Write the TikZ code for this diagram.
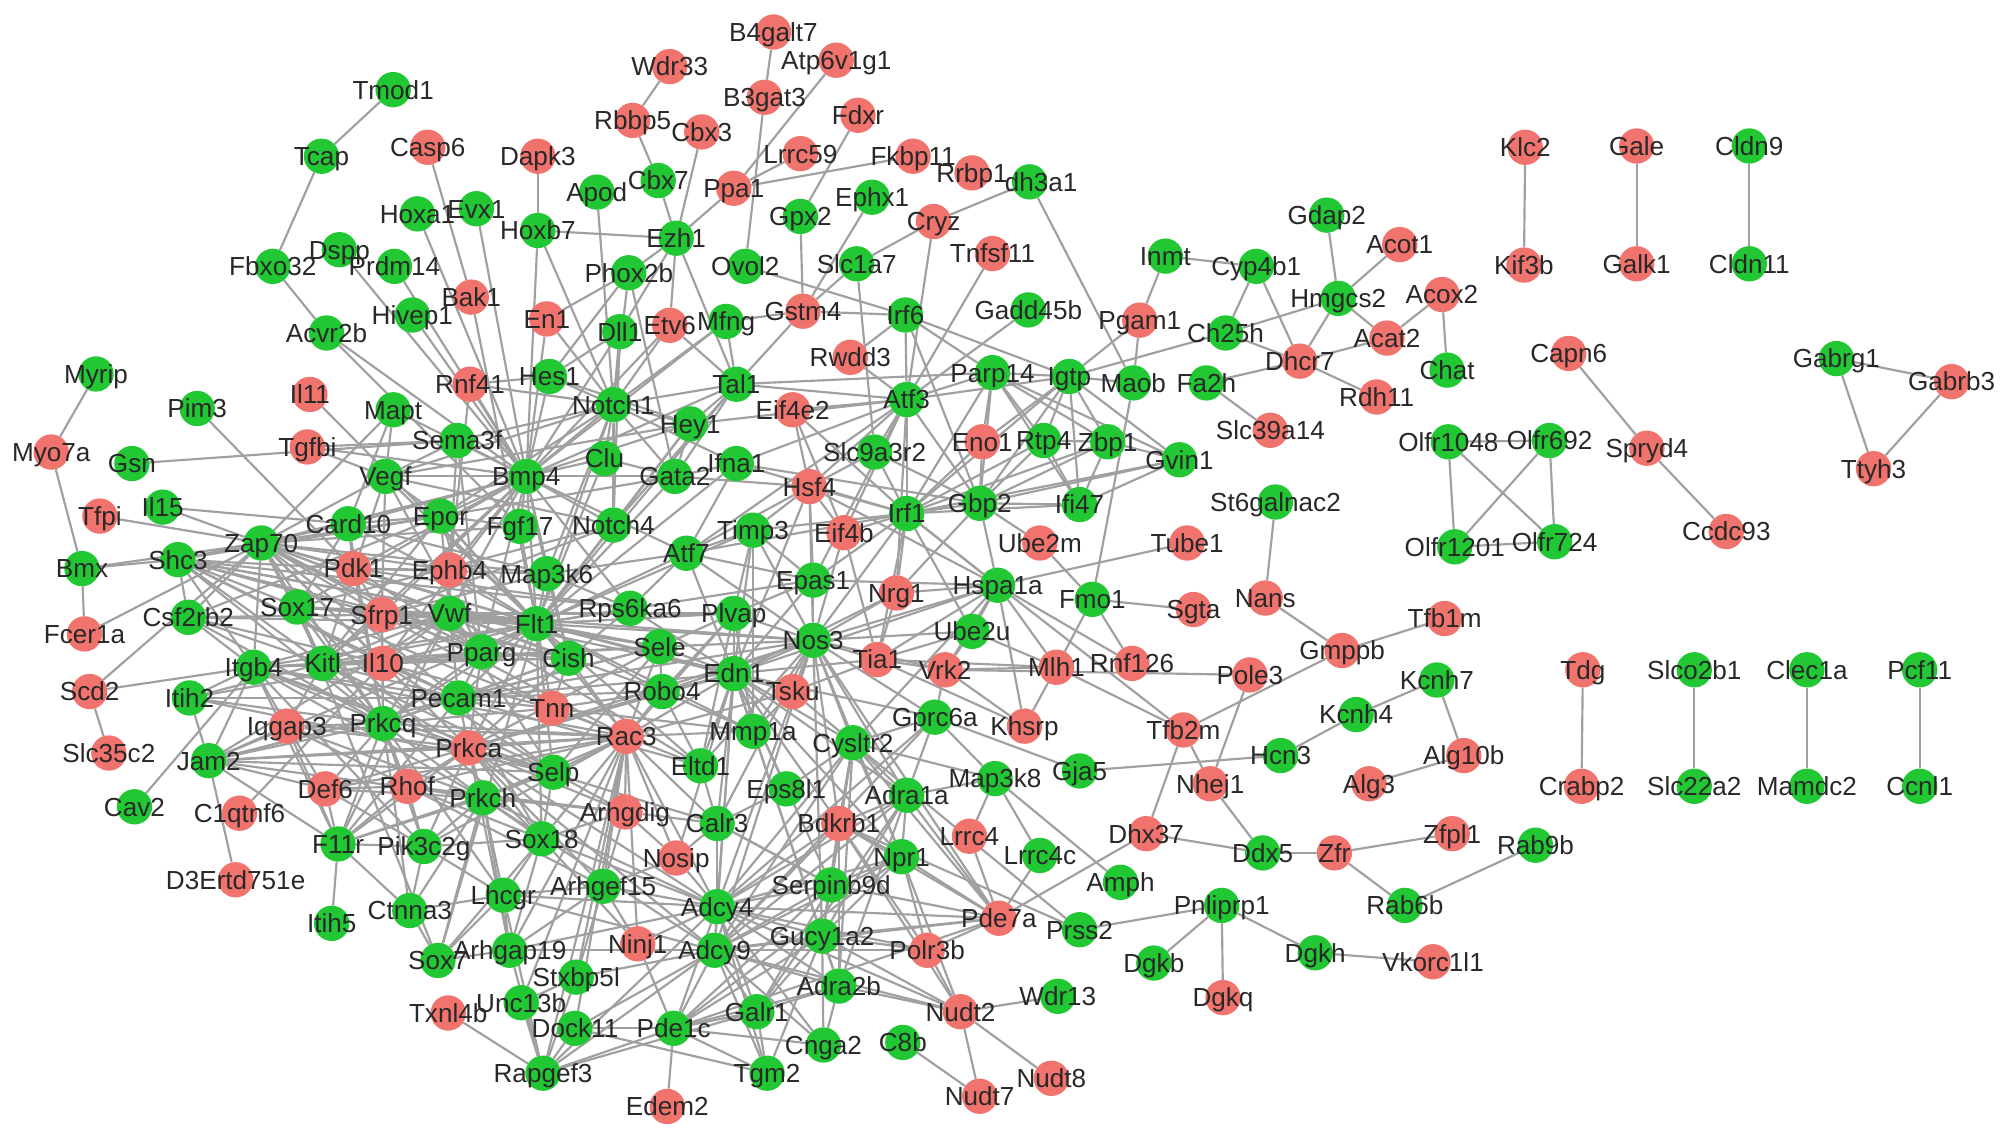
\documentclass[tikz,border=0pt]{standalone}
\usepackage{fontspec}
\newfontfamily\labfont{Liberation Sans}
\definecolor{ngreen}{RGB}{34,200,52}
\definecolor{nred}{RGB}{241,115,110}
\definecolor{egray}{RGB}{160,160,160}
\definecolor{tgray}{RGB}{40,40,40}
\pgfdeclarelayer{edgelayer}
\pgfsetlayers{edgelayer,main}
\newcommand\myhub[2]{\foreach \nb in {#2}{\draw[link] (#1) -- (\nb);}}
\def\GN{Tmod1/307/70,Tcap/251/122,Fbxo32/213/208,Dspp/265/195,Prdm14/308/208,Hoxa1/326/167,Evx1/372/163,Hoxb7/420/180,Apod/466/150,Hivep1/322/246,Acvr2b/255/260,Myrip/75/292,Pim3/154/319,Mapt/307/320,Hes1/429/294,Gsn/103/362,Sema3f/357/344,Vegf/301/372,Bmp4/411/372,Il15/127/396,Card10/272/409,Epor/344/403,Fgf17/406/411,Zap70/204/424,Shc3/139/437,Bmx/64/444,Map3k6/427/448,Sox17/232/474,Vwf/351/479,Flt1/419/487,Csf2rb2/147/482,Itgb4/198/521,Kitl/252/518,Pparg/376/509,Cish/444/514,Itih2/148/545,Pecam1/358/545,Prkcq/299/565,Jam2/163/594,Cav2/105/630,Prkch/377/623,Selp/432/603,F11r/264/659,Pik3c2g/331/661,Sox18/423/655,Lhcgr/393/699,Ctnna3/320/711,Itih5/259/721,Arhgap19/398/742,Sox7/342/750,Stxbp5l/450/763,Unc13b/407/783,Dock11/449/803,Rapgef3/424/838,%
Cbx7/514/141,Ephx1/681/154,Gpx2/625/169,Ezh1/528/186,Ovol2/582/208,Slc1a7/669/206,Phox2b/491/213,Irf6/707/246,Gadd45b/803/242,Dll1/484/259,Mfng/567/251,Tal1/575/300,Parp14/775/291,Igtp/835/294,Maob/885/299,Notch1/479/316,Hey1/539/331,Atf3/708/312,Clu/472/358,Gata2/527/372,Ifna1/575/362,Slc9a3r2/683/353,Rtp4/815/344,Zbp1/865/345,Gvin1/921/359,Irf1/708/401,Gbp2/765/393,Ifi47/843/394,Notch4/479/410,Timp3/588/414,Atf7/536/432,Epas1/635/453,Hspa1a/779/457,Fmo1/853/468,Rps6ka6/492/475,Plvap/573/479,Ube2u/759/493,Sele/515/505,Nos3/635/500,Edn1/573/526,Robo4/517/540,Gprc6a/730/560,Mmp1a/588/571,Cysltr2/666/580,Eltd1/547/598,Eps8l1/614/616,Map3k8/777/608,Gja5/843/602,Adra1a/708/621,Calr3/560/643,Npr1/704/669,Lrrc4c/812/668,Amph/875/689,Serpinb9d/649/691,Arhgef15/471/692,Adcy4/560/708,Prss2/843/726,Gucy1a2/642/731,Adcy9/558/742,Dgkb/901/752,Adra2b/655/770,Wdr13/826/778,Galr1/591/790,Pde1c/526/803,Cnga2/643/816,C8b/705/814,Tgm2/599/838,%
Inmt/910/200,Cyp4b1/981/208,Gdap2/1036/168,Hmgcs2/1045/233,Ch25h/957/260,Chat/1130/289,Fa2h/942/299,St6galnac2/996/392,Kcnh7/1122/531,Kcnh4/1059/558,Hcn3/1000/590,Rab9b/1199/660,Ddx5/986/666,Pnliprp1/954/707,Rab6b/1097/707,Dgkh/1027/744,%
Olfr1048/1131/345,Olfr692/1210/344,Olfr1201/1136/427,Olfr724/1214/423,Cldn9/1366/114,Cldn11/1366/206,Gabrg1/1434/280,Slco2b1/1323/523,Slc22a2/1323/614,Clec1a/1411/523,Mamdc2/1411/614,Pcf11/1499/523,Ccnl1/1499/614}
\def\RN{Casp6/334/115,Dapk3/420/122,Bak1/368/232,En1/427/249,Il11/242/308,Rnf41/367/300,Myo7a/40/353,Tgfbi/240/349,Tfpi/78/403,Pdk1/276/444,Ephb4/351/445,Sfrp1/298/480,Fcer1a/66/495,Il10/299/518,Scd2/70/540,Tnn/431/553,Iqgap3/224/567,Prkca/366/584,Slc35c2/85/588,Def6/254/616,Rhof/318/614,C1qtnf6/187/635,D3Ertd751e/184/687,Txnl4b/350/791,%
Wdr33/523/52,B4galt7/604/25,Atp6v1g1/653/47,B3gat3/597/76,Rbbp5/494/94,Cbx3/548/103,Fdxr/670/90,Lrrc59/625/120,Fkbp11/713/122,Rrbp1/759/135,Ppa1/573/147,Cryz/729/173,Tnfsf11/775/198,Gstm4/627/243,Etv6/523/254,Rwdd3/664/279,Eif4e2/619/320,Eno1/767/345,Hsf4/632/380,Eif4b/659/416,Ube2m/812/424,Tube1/927/424,Nrg1/700/463,Sgta/932/476,Tia1/685/515,Vrk2/738/523,Mlh1/825/521,Rnf126/884/518,Tsku/619/540,Khsrp/800/567,Tfb2m/924/570,Rac3/489/575,Arhgdig/488/634,Bdkrb1/655/643,Lrrc4/757/653,Dhx37/895/651,Nosip/528/670,Pde7a/780/717,Ninj1/498/737,Polr3b/724/742,Nudt2/750/790,Nudt8/821/842,Nudt7/765/856,Edem2/521/864,%
Acot1/1093/191,Acox2/1126/230,Pgam1/890/250,Acat2/1083/264,Dhcr7/1015/282,Rdh11/1075/310,Slc39a14/992/336,Nans/988/467,Gmppb/1048/508,Tfb1m/1128/483,Pole3/976/527,Alg10b/1143/590,Nhej1/945/612,Alg3/1069/612,Zfpl1/1134/651,Zfr/1042/666,Vkorc1l1/1119/751,Dgkq/955/779,%
Klc2/1191/115,Kif3b/1190/207,Gale/1278/114,Galk1/1278/206,Capn6/1225/276,Spryd4/1286/350,Ccdc93/1348/415,Gabrb3/1524/298,Ttyh3/1463/366,Tdg/1236/523,Crabp2/1235/614}
\begin{document}
\begin{tikzpicture}[x=0.05cm,y=-0.05cm,
  gnode/.style={circle,fill=ngreen,minimum size=1.38cm,inner sep=0pt},
  rnode/.style={circle,fill=nred,minimum size=1.38cm,inner sep=0pt},
  link/.style={draw=egray,line width=2.4pt},
  lab/.style={text=tgray,font={\labfont\fontsize{29}{30}\selectfont},inner sep=0pt,text height=20.8pt,text depth=0pt}]
\useasboundingbox (0,0) rectangle (1568,890);
\foreach \n/\x/\y in \GN {\node[gnode] (\n) at (\x,\y) {};}
\foreach \n/\x/\y in \RN {\node[rnode] (\n) at (\x,\y) {};}
\node[gnode] (dh3a1) at (804,142) {};
\begin{pgfonlayer}{edgelayer}
\fill[white] (0,0) rectangle (1568,890);
\foreach \na/\nb in {Tmod1/Tcap,Tcap/Fbxo32,Fbxo32/Acvr2b,Myrip/Myo7a,Myo7a/Bmx,Bmx/Fcer1a,Bmx/Shc3,Bmx/Zap70,Tfpi/Zap70,Il15/Card10,Il15/Zap70,Gsn/Sema3f,Pim3/Pdk1,Mapt/Zap70,Fcer1a/Zap70,Scd2/Slc35c2,Scd2/Itgb4,Scd2/Zap70,Cav2/Itgb4,Jam2/D3Ertd751e,Jam2/F11r,Def6/F11r,F11r/Itih5,C1qtnf6/Il10,B4galt7/B3gat3,Wdr33/Rbbp5,Rbbp5/Cbx7,Cbx7/Ezh1,Cbx3/Ezh1,B3gat3/Ovol2,Atp6v1g1/Ppa1,Ppa1/Ezh1,Ppa1/Lrrc59,Ppa1/Fkbp11,Fdxr/Gpx2,Hoxb7/Ezh1,Dapk3/Hoxb7,Casp6/Bak1,Ephx1/Gstm4,Cryz/dh3a1,Cryz/Slc1a7,Gstm4/Slc1a7,Cryz/Atf3,Tnfsf11/Atf3,Gadd45b/Atf3,Irf6/Atf3,Gstm4/Irf6,Gpx2/Gstm4,Mfng/Gstm4,dh3a1/Maob,Inmt/Pgam1,Inmt/Cyp4b1,Pgam1/Igtp,Pgam1/Maob,Igtp/Ch25h,Parp14/Igtp,Igtp/Maob,Gdap2/Hmgcs2,Hmgcs2/Acot1,Hmgcs2/Acat2,Hmgcs2/Ch25h,Hmgcs2/Dhcr7,Cyp4b1/Ch25h,Cyp4b1/Dhcr7,Ch25h/Dhcr7,Acat2/Dhcr7,Acat2/Acox2,Acox2/Chat,Dhcr7/Fa2h,Dhcr7/Rdh11,Fa2h/Slc39a14,Klc2/Kif3b,Gale/Galk1,Cldn9/Cldn11,Capn6/Spryd4,Spryd4/Ccdc93,Gabrg1/Gabrb3,Gabrg1/Ttyh3,Gabrb3/Ttyh3,%
Olfr1048/Olfr692,Olfr1048/Olfr1201,Olfr1048/Olfr724,Olfr692/Olfr1201,Olfr692/Olfr724,Olfr1201/Olfr724,St6galnac2/Nans,Nans/Gmppb,Gmppb/Tfb1m,Gmppb/Tfb2m,Pole3/Nhej1,Vrk2/Pole3,Kcnh7/Kcnh4,Kcnh4/Hcn3,Kcnh7/Alg10b,Gja5/Hcn3,Alg3/Alg10b,Tdg/Crabp2,Slco2b1/Slc22a2,Clec1a/Mamdc2,Pcf11/Ccnl1,Nhej1/Ddx5,Ddx5/Zfr,Zfr/Zfpl1,Zfr/Rab6b,Rab6b/Rab9b,Pnliprp1/Dgkh,Dgkh/Vkorc1l1,Pnliprp1/Dgkq,Pnliprp1/Dgkb,Prss2/Pnliprp1,Dhx37/Ddx5,Tfb2m/Dhx37,Dhx37/Pde7a,Map3k8/Lrrc4,Map3k8/Lrrc4c,Map3k8/Amph,Map3k8/Gprc6a,Lrrc4c/Pde7a,Lrrc4/Pde7a,Pde7a/Polr3b,Polr3b/Nudt2,Nudt2/Wdr13,Nudt2/Nudt7,Nudt2/Nudt8,C8b/Nudt7,Npr1/Polr3b,Npr1/Nudt2,Gucy1a2/Nudt2,Adra2b/Nudt2,Bdkrb1/Nudt2,Tfb2m/Nhej1,Tfb2m/Mlh1,Tube1/Hspa1a,Sgta/Fmo1,Fmo1/Maob,Fmo1/Mlh1,Fmo1/Rnf126,Ube2m/Fmo1,Ube2m/Gbp2,Mlh1/Khsrp,Ube2u/Mlh1,Tia1/Khsrp,Vrk2/Gprc6a,Hspa1a/Rnf126,Hspa1a/Tfb2m,Hspa1a/Gbp2,Hspa1a/Nos3,Hsf4/Hspa1a,Txnl4b/Rapgef3,Pde1c/Edem2,Dock11/Tgm2,Stxbp5l/Arhgef15,Sox18/Arhgap19,Ovol2/Irf6,Slc1a7/Slc9a3r2,Irf6/Gbp2,Rwdd3/Irf6,Tal1/Parp14,Gstm4/Tal1,Ezh1/Tal1,Ezh1/Etv6,Ezh1/Phox2b,Phox2b/Gata2,Phox2b/Hes1,Apod/Notch1,Hoxb7/Notch1,Hoxb7/Bmp4,Evx1/Bmp4,Hoxa1/Bmp4,Bak1/Flt1,Il11/Flt1,Rnf41/Hes1,Cysltr2/Prss2,Unc13b/Stxbp5l,Unc13b/Rapgef3,Pde1c/Cnga2,Ctnna3/F11r,Eif4e2/Eif4b,Dll1/Ezh1,En1/Phox2b}
{\draw[link] (\na) -- (\nb);}
\myhub{Bmp4}{Hes1,Dll1,En1,Prdm14,Dspp,Hivep1,Acvr2b,Rnf41,Notch1,Sema3f,Mapt,Tgfbi,Vegf,Epor,Fgf17,Clu,Gata2,Notch4,Flt1,Map3k6,Ephb4,Vwf,Pdk1,Card10,Sfrp1,Pparg,Tal1,Hey1,Etv6,Mfng,Zap70,Kitl,Il10,Sox17,Cish,Rps6ka6,Atf7}
\myhub{Notch1}{Dll1,Hes1,Hey1,Mfng,Notch4,Tal1,Gata2,Etv6,En1,Clu,Flt1,Vegf,Sema3f,Rnf41,Ifna1,Map3k6,Phox2b,Epor}
\myhub{Zap70}{Shc3,Card10,Prkcq,Pdk1,Sfrp1,Flt1,Kitl,Il10,Csf2rb2,Itgb4,Epor,Vwf,Pparg,Cish,Prkca,Rac3,Pecam1,Sox17,Ephb4,Fgf17,Map3k6,Vegf}
\myhub{Shc3}{Csf2rb2,Itgb4,Kitl,Flt1,Epor,Sele,Pecam1,Prkcq,Sfrp1,Il10,Cish,Rps6ka6,Rac3,Card10,Pdk1}
\myhub{Flt1}{Vegf,Kitl,Epor,Pecam1,Vwf,Cish,Pparg,Notch4,Map3k6,Sele,Selp,Nos3,Edn1,Robo4,Plvap,Tal1,Gata2,Rps6ka6,Csf2rb2,Card10,Pdk1,Sfrp1,Sox17,Sox18,Sox7,Ephb4,Eltd1,Tnn,Itgb4,Jam2,Il10,Fgf17,Prkcq,Prkca,Rac3,Timp3,Atf7,Epas1,Mmp1a,Tsku,Ifna1,Clu,Hey1}
\myhub{Vwf}{Pecam1,Sele,Selp,Edn1,Nos3,Plvap,Robo4,Sfrp1,Kitl,Il10,F11r,Jam2,Cish,Pparg,Itgb4,Sox17,Prkcq,Eltd1,Ephb4,Epor}
\myhub{Pecam1}{Sele,Selp,Cish,Jam2,F11r,Itgb4,Prkcq,Prkca,Robo4,Edn1,Nos3,Itih2,Sox18,Kitl,Il10,Tnn,Eltd1,Pparg}
\myhub{Prkcq}{Prkca,Prkch,Card10,Rac3,Rhof,Iqgap3,Def6,Jam2,F11r,Itgb4,Pik3c2g,Selp,Kitl,Il10,Pdk1,Itih2,Csf2rb2,Sox17,Tnn,Cish,Pparg,Sfrp1,Ctnna3,Lhcgr}
\myhub{Prkca}{Prkch,Rac3,Rhof,Iqgap3,Def6,Jam2,F11r,Pik3c2g,Selp,Sele,Pparg,Arhgdig,Arhgef15,Arhgap19,Sox18,Itgb4,Kitl,Cish,Edn1,Nos3,Adcy4,Adcy9,Calr3,Robo4}
\myhub{Prkch}{Rac3,Rhof,Iqgap3,Def6,F11r,Pik3c2g,Ctnna3,Lhcgr,Sox18,Sox7,Arhgap19,Jam2,Itgb4,Selp,Arhgdig,Adcy4,Adcy9}
\myhub{Rac3}{Rhof,Iqgap3,Arhgdig,Arhgef15,Arhgap19,Dock11,Rapgef3,Robo4,Eltd1,Cish,Pik3c2g,Sox18,Selp,Mmp1a,Edn1,Tnn,Sele,Adcy4,Nosip,Calr3,Unc13b,Stxbp5l,Ninj1,Itgb4,Jam2,Def6,Tsku,Plvap}
\myhub{Edn1}{Nos3,Adra1a,Adra2b,Bdkrb1,Cysltr2,Npr1,Gucy1a2,Adcy4,Adcy9,Plvap,Sele,Mmp1a,Timp3,Epas1,Tsku,Robo4,Eltd1,Calr3,Eps8l1,Atf7,Rps6ka6,Gprc6a,Serpinb9d,Nosip,Tia1,Hspa1a,Nrg1,Hsf4}
\myhub{Nos3}{Epas1,Npr1,Gucy1a2,Calr3,Sele,Plvap,Tia1,Nrg1,Eif4b,Cysltr2,Bdkrb1,Adra1a,Timp3,Robo4,Eltd1,Mmp1a,Tsku,Gprc6a,Vrk2,Ube2u,Irf1,Hsf4,Adcy4,Adcy9,Pde7a,Atf7}
\myhub{Adcy4}{Adcy9,Adra2b,Adra1a,Galr1,Gucy1a2,Pde1c,Pde7a,Cysltr2,Bdkrb1,Npr1,Lhcgr,Gprc6a,Cnga2,Rapgef3,Serpinb9d,Calr3,Arhgef15,Arhgap19,Sox18,Ninj1,Nosip,Polr3b,Nudt2,Tgm2}
\myhub{Adcy9}{Adra2b,Adra1a,Galr1,Gucy1a2,Pde1c,Pde7a,Cysltr2,Bdkrb1,Npr1,Lhcgr,Gprc6a,Cnga2,Rapgef3,Serpinb9d,Stxbp5l,Dock11,Arhgap19,Nudt2,Polr3b,Tgm2}
\myhub{Pde1c}{Gucy1a2,Rapgef3,Tgm2,Dock11,Npr1,Galr1,Adra2b,Pde7a,Serpinb9d}
\myhub{Rapgef3}{Dock11,Stxbp5l,Arhgap19,Lhcgr,Galr1}
\myhub{Irf1}{Gbp2,Ifi47,Rtp4,Zbp1,Gvin1,Igtp,Parp14,Eno1,Atf3,Hsf4,Slc9a3r2,Eif4b,Eif4e2,Atf7,Timp3,Epas1,Ube2u,Hspa1a,Nrg1,Tia1,Ifna1}
\myhub{Gbp2}{Igtp,Parp14,Rtp4,Zbp1,Gvin1,Ifi47,Eno1,Atf3,Nrg1,Slc9a3r2,Ifna1}
\myhub{Igtp}{Ifi47,Zbp1,Rtp4,Gvin1,Eno1,Atf3,Irf6}
\myhub{Parp14}{Zbp1,Rtp4,Ifi47,Gvin1,Atf3,Irf6,Eno1}
\myhub{Ifi47}{Zbp1,Rtp4,Gvin1}
\myhub{Zbp1}{Gvin1,Rtp4}
\myhub{Atf3}{Slc9a3r2,Eif4e2,Hsf4,Atf7,Rwdd3,Eif4b,Epas1,Nrg1,Hey1,Ifna1,Tal1}
\myhub{Hsf4}{Eif4b,Epas1,Timp3,Eif4e2,Atf7,Slc9a3r2,Gata2}
\myhub{Hspa1a}{Epas1,Ube2u,Nrg1,Tia1,Khsrp,Vrk2,Irf1,Cysltr2,Mlh1}
\myhub{Tia1}{Vrk2,Mlh1,Eif4b,Tsku,Ube2u,Nrg1}
\myhub{Vrk2}{Khsrp,Mlh1,Ube2u}
\myhub{Gprc6a}{Cysltr2,Adra1a,Gja5}
\myhub{Cysltr2}{Adra1a,Bdkrb1,Npr1,Gucy1a2,Eps8l1,Serpinb9d,Adra2b,Pde7a,Map3k8}
\myhub{Adra1a}{Bdkrb1,Adra2b,Gucy1a2,Npr1,Galr1,Map3k8,Pde7a}
\myhub{Bdkrb1}{Npr1,Gucy1a2,Serpinb9d,Adra2b,Pde7a,Prss2,Polr3b}
\myhub{Npr1}{Gucy1a2,Pde7a,Serpinb9d}
\myhub{Gucy1a2}{Pde7a,Polr3b,Adra2b,Serpinb9d,Galr1,Cnga2,Tgm2}
\myhub{Serpinb9d}{Pde7a,Calr3,Galr1}
\myhub{Adra2b}{Galr1,Cnga2}
\myhub{Galr1}{Tgm2}
\myhub{Calr3}{Eltd1,Eps8l1,Arhgdig,Nosip,Serpinb9d}
\myhub{Nosip}{Arhgdig,Arhgef15}
\myhub{Arhgdig}{Arhgef15,Rhof,Selp,Sox18}
\myhub{Arhgef15}{Rhof,Lhcgr,Ninj1,Arhgap19}
\myhub{Ninj1}{Sox18,Pde1c}
\myhub{Lhcgr}{Sox18,Sox7,Ctnna3,Pik3c2g,Arhgap19}
\myhub{Sox18}{Sox7,Sox17,Pik3c2g,Rhof,Selp}
\myhub{Sox7}{Sox17,Arhgap19,Ctnna3}
\myhub{Ctnna3}{Pik3c2g}
\myhub{F11r}{Rhof,Pik3c2g,Itgb4,Iqgap3,Selp}
\myhub{Pik3c2g}{Rhof,Itgb4,Def6}
\myhub{Def6}{Rhof,Iqgap3,Jam2}
\myhub{Iqgap3}{Rhof,Jam2,Itgb4,Kitl}
\myhub{Jam2}{Itgb4,Itih2,Sele,Selp}
\myhub{Itih2}{Itgb4,Kitl,Il10,Selp}
\myhub{Itgb4}{Kitl,Il10,Csf2rb2,Selp}
\myhub{Csf2rb2}{Kitl,Il10,Epor,Sfrp1}
\myhub{Kitl}{Il10,Epor,Vegf,Sox17,Sfrp1,Pparg,Cish,Selp,Sele}
\myhub{Il10}{Pparg,Sele,Selp,Cish,Sfrp1,Tnn}
\myhub{Sfrp1}{Vegf,Sox17,Pparg,Tnn,Map3k6,Cish,Notch4}
\myhub{Sox17}{Card10,Notch4}
\myhub{Pdk1}{Card10,Map3k6,Ephb4,Sfrp1,Pparg,Rps6ka6}
\myhub{Card10}{Map3k6,Epor,Mapt}
\myhub{Epor}{Vegf,Cish,Pparg,Fgf17}
\myhub{Vegf}{Sema3f,Pparg,Notch4,Hey1,Tgfbi,Mapt}
\myhub{Sema3f}{Ephb4,Pparg,Tgfbi}
\myhub{Rnf41}{Ephb4}
\myhub{Notch4}{Hey1,Dll1,Tal1}
\myhub{Map3k6}{Rps6ka6,Atf7,Cish}
\myhub{Rps6ka6}{Atf7,Cish}
\myhub{Pparg}{Cish}
\myhub{Sele}{Selp,Robo4,Plvap}
\myhub{Plvap}{Robo4,Eltd1,Timp3,Mmp1a}
\myhub{Robo4}{Eltd1,Tnn,Mmp1a}
\myhub{Tnn}{Mmp1a,Cish}
\myhub{Mmp1a}{Timp3,Tsku}
\myhub{Tsku}{Cysltr2}
\myhub{Epas1}{Atf7,Timp3,Plvap}
\myhub{Gata2}{Tal1,Hey1,Epor,Clu}
\myhub{Hey1}{Hes1,Tal1}
\myhub{Ifna1}{Gata2,Atf7}
\myhub{Timp3}{Atf7}
\myhub{Dll1}{Hes1}
\myhub{Mfng}{Tal1}
\myhub{Etv6}{Tal1}
\myhub{Acvr2b}{Fgf17}
\end{pgfonlayer}
\foreach \n/\x/\y in \GN {\node[lab] at (\n) {\n};}
\foreach \n/\x/\y in \RN {\node[lab] at (\n) {\n};}
\node[lab] at ([xshift=0.45cm]dh3a1.center) {dh3a1};
\end{tikzpicture}
\end{document}
